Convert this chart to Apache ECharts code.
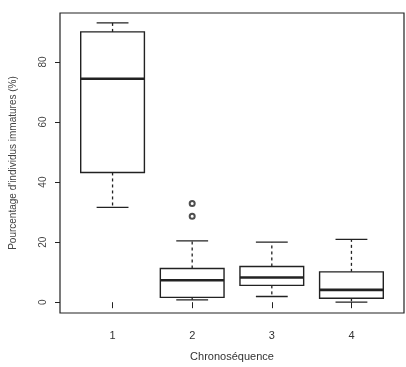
<!DOCTYPE html>
<html><head><meta charset="utf-8">
<script src="https://cdn.jsdelivr.net/npm/echarts@6/dist/echarts.min.js"></script>
<style>html,body{margin:0;padding:0;background:#fff}#c{width:406px;height:367px}</style>
</head><body><div id="c"></div>
<script>
const categories = [1, 2, 3, 4];
const lowWhisker = [31.6, 0.8, 1.9, 0.0];
const q1 = [43.2, 1.6, 5.6, 1.3];
const median = [74.4, 7.3, 8.2, 4.1];
const q3 = [90.0, 11.2, 11.9, 10.1];
const highWhisker = [93.0, 20.4, 20.0, 20.9];
const outlierGroup = [2, 2];
const outlierValue = [32.9, 28.6];
const yTicks = [0, 20, 40, 60, 80];

const boxData = categories.map((c, i) => [c, lowWhisker[i], q1[i], median[i], q3[i], highWhisker[i]]);
const outData = outlierGroup.map((g, i) => [g, outlierValue[i]]);
const ink = '#222';

const chart = echarts.init(document.getElementById('c'));
chart.setOption({
  backgroundColor: '#fff',
  animation: false,
  grid: { left: 56, right: 2, top: 13, bottom: 53, show: true, borderColor: ink, borderWidth: 1.2, backgroundColor: 'transparent' },
  xAxis: {
    type: 'value', min: 0.34, max: 4.66,
    name: 'Chronoséquence', nameLocation: 'middle', nameGap: 38,
    nameTextStyle: { fontFamily: 'Liberation Sans', fontSize: 11, color: '#333' },
    axisLine: { show: false },
    splitLine: { show: false },
    axisTick: { show: true, length: 6, lineStyle: { color: ink }, customValues: categories },
    axisLabel: { customValues: categories, margin: 17, fontFamily: 'Liberation Sans', fontSize: 11, color: '#333' }
  },
  yAxis: {
    type: 'value', min: -3.6, max: 96.3,
    name: "Pourcentage d'individus immatures (%)", nameLocation: 'middle', nameGap: 42, nameRotate: 90,
    nameTextStyle: { fontFamily: 'Liberation Sans', fontSize: 10, color: '#444' },
    axisLine: { show: false },
    splitLine: { show: false },
    axisTick: { show: true, length: 5, lineStyle: { color: ink }, customValues: yTicks },
    axisLabel: { customValues: yTicks, rotate: 90, margin: 12, fontFamily: 'Liberation Sans', fontSize: 10, color: '#444' }
  },
  series: [
    {
      type: 'custom',
      data: boxData,
      encode: { x: 0, y: [1, 2, 3, 4, 5] },
      renderItem: function (params, api) {
        const x = api.value(0);
        const lo = api.coord([x, api.value(1)]);
        const a = api.coord([x, api.value(2)]);
        const m = api.coord([x, api.value(3)]);
        const b = api.coord([x, api.value(4)]);
        const hi = api.coord([x, api.value(5)]);
        const w = api.size([0.8, 0])[0];
        const cap = w / 2;
        const cx = lo[0];
        const solid = { stroke: ink, lineWidth: 1.3, fill: null };
        const dashed = { stroke: ink, lineWidth: 1.3, lineDash: [3, 3] };
        return {
          type: 'group',
          children: [
            { type: 'line', shape: { x1: cx, y1: b[1], x2: cx, y2: hi[1] }, style: dashed },
            { type: 'line', shape: { x1: cx, y1: a[1], x2: cx, y2: lo[1] }, style: dashed },
            { type: 'line', shape: { x1: cx - cap / 2, y1: hi[1], x2: cx + cap / 2, y2: hi[1] }, style: solid },
            { type: 'line', shape: { x1: cx - cap / 2, y1: lo[1], x2: cx + cap / 2, y2: lo[1] }, style: solid },
            { type: 'rect', shape: { x: cx - w / 2, y: b[1], width: w, height: a[1] - b[1] }, style: { stroke: ink, lineWidth: 1.4, fill: '#fff' } },
            { type: 'line', shape: { x1: cx - w / 2, y1: m[1], x2: cx + w / 2, y2: m[1] }, style: { stroke: ink, lineWidth: 2.6 } }
          ]
        };
      }
    },
    {
      type: 'scatter',
      data: outData,
      symbol: 'emptyCircle',
      symbolSize: 5,
      itemStyle: { color: ink }
    }
  ]
});
</script></body></html>
